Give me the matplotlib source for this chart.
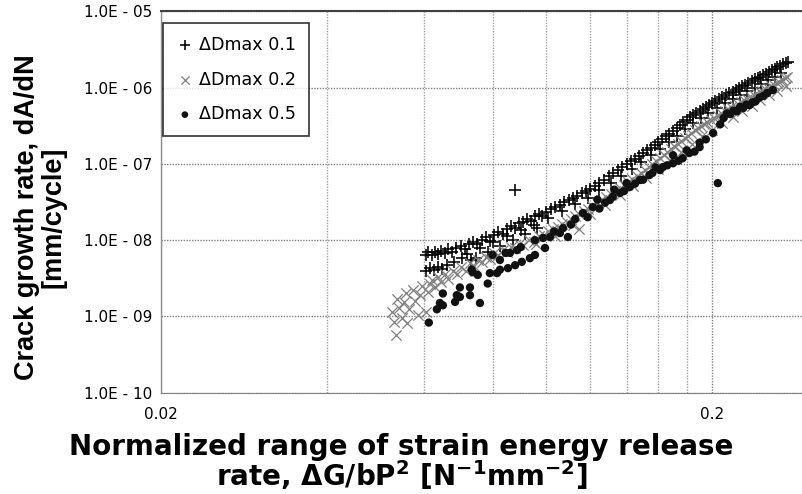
import matplotlib
matplotlib.use("Agg")
import matplotlib.pyplot as plt
from matplotlib.ticker import FixedLocator, NullFormatter

plt.rcParams['font.family'] = ['DejaVu Sans']
plt.rcParams['mathtext.fontset'] = 'custom'
plt.rcParams['mathtext.rm'] = 'DejaVu Sans:bold'
plt.rcParams['mathtext.it'] = 'DejaVu Sans:bold'
plt.rcParams['mathtext.bf'] = 'DejaVu Sans:bold'

# dDmax 0.1 (+)
plus_x = [0.0605, 0.0612, 0.0620, 0.0628, 0.0636, 0.0645, 0.0655, 0.0665, 0.0675, 0.0688,
          0.0605, 0.0615, 0.0626, 0.0637, 0.0648, 0.0662, 0.0680, 0.0705, 0.0730,
          0.0700, 0.0712, 0.0725, 0.0738, 0.0750, 0.0765, 0.0778, 0.0790, 0.0805, 0.0820,
          0.0835, 0.0850, 0.0865, 0.0880, 0.0895, 0.0910, 0.0925, 0.0940, 0.0955, 0.0970,
          0.0985, 0.1000, 0.1020, 0.1040, 0.1060, 0.1080, 0.1100, 0.1120, 0.1140, 0.1160,
          0.1180, 0.1200, 0.1225, 0.1250, 0.1275, 0.1300, 0.1325, 0.1350, 0.1375, 0.1400,
          0.1425, 0.1450, 0.1475, 0.1500, 0.1525, 0.1550, 0.1575, 0.1600, 0.1625, 0.1650,
          0.1675, 0.1700, 0.1725, 0.1750, 0.1775, 0.1800, 0.1825, 0.1850, 0.1875, 0.1900,
          0.1925, 0.1950, 0.1975, 0.2000, 0.2030, 0.2060, 0.2090, 0.2120, 0.2150, 0.2180,
          0.2210, 0.2240, 0.2270, 0.2300, 0.2330, 0.2360, 0.2390, 0.2420, 0.2450, 0.2480,
          0.2510, 0.2540, 0.2570, 0.2600, 0.2630, 0.2660, 0.2690, 0.2720, 0.2750,
          0.0720, 0.0760, 0.0800, 0.0850, 0.0900, 0.0950, 0.1010, 0.1070, 0.1130, 0.1190,
          0.1250, 0.1310, 0.1370, 0.1430, 0.1490, 0.1550, 0.1610, 0.1670, 0.1730, 0.1790,
          0.1850, 0.1910, 0.1970, 0.2040, 0.2110, 0.2180, 0.2250, 0.2320, 0.2390, 0.2460,
          0.2530, 0.2600, 0.2670,
          0.0745, 0.0785, 0.0825, 0.0870, 0.0915, 0.0965,
          0.0880]
plus_y = [6.3e-9, 6.9e-9, 6.4e-9, 7.1e-9, 6.6e-9, 7.3e-9, 6.7e-9, 7.6e-9, 7.0e-9, 7.9e-9,
          4.0e-9, 4.3e-9, 4.1e-9, 4.4e-9, 4.2e-9, 4.7e-9, 5.2e-9, 5.8e-9, 5.5e-9,
          8.3e-9, 7.6e-9, 8.9e-9, 9.6e-9, 8.8e-9, 1.02e-8, 1.1e-8, 9.9e-9, 1.18e-8, 1.27e-8,
          1.2e-8, 1.4e-8, 1.52e-8, 1.45e-8, 1.66e-8, 1.75e-8, 1.9e-8, 1.8e-8, 2.05e-8, 2.2e-8,
          2.1e-8, 2.35e-8, 2.55e-8, 2.7e-8, 2.9e-8, 3.15e-8, 3.35e-8, 3.6e-8, 3.85e-8, 4.1e-8,
          4.4e-8, 4.7e-8, 5.2e-8, 5.7e-8, 6.2e-8, 6.9e-8, 7.6e-8, 8.3e-8, 9.1e-8, 1.0e-7,
          1.08e-7, 1.17e-7, 1.27e-7, 1.38e-7, 1.5e-7, 1.63e-7, 1.78e-7, 1.95e-7, 2.12e-7, 2.3e-7,
          2.5e-7, 2.7e-7, 2.95e-7, 3.2e-7, 3.5e-7, 3.8e-7, 4.1e-7, 4.4e-7, 4.7e-7, 5.0e-7,
          5.3e-7, 5.6e-7, 5.95e-7, 6.3e-7, 6.7e-7, 7.1e-7, 7.5e-7, 7.95e-7, 8.4e-7, 8.9e-7,
          9.4e-7, 9.9e-7, 1.05e-6, 1.1e-6, 1.16e-6, 1.22e-6, 1.28e-6, 1.34e-6, 1.4e-6, 1.46e-6,
          1.53e-6, 1.6e-6, 1.68e-6, 1.76e-6, 1.85e-6, 1.94e-6, 2.03e-6, 2.1e-6, 2.15e-6,
          6.5e-9, 7.8e-9, 9.5e-9, 1.15e-8, 1.35e-8, 1.6e-8, 1.95e-8, 2.4e-8, 3.0e-8, 3.6e-8,
          4.5e-8, 5.6e-8, 7.0e-8, 8.7e-8, 1.05e-7, 1.3e-7, 1.58e-7, 1.95e-7, 2.35e-7, 2.85e-7,
          3.45e-7, 4.0e-7, 4.6e-7, 5.4e-7, 6.2e-7, 7.1e-7, 8.0e-7, 9.0e-7, 1.0e-6, 1.12e-6,
          1.25e-6, 1.4e-6, 1.55e-6,
          5.9e-9, 7.0e-9, 8.4e-9, 1.0e-8, 1.2e-8, 1.45e-8,
          4.5e-8]

# dDmax 0.2 (x)
cross_x = [0.0525, 0.0530, 0.0535, 0.0536, 0.0542, 0.0548, 0.0553, 0.0558, 0.0560, 0.0565,
           0.0573, 0.0578, 0.0585, 0.0590, 0.0597, 0.0606, 0.0610, 0.0617, 0.0622, 0.0630,
           0.0638, 0.0646, 0.0655, 0.0665, 0.0678, 0.0690, 0.0702, 0.0715, 0.0727, 0.0740,
           0.0752, 0.0765, 0.0778, 0.0790, 0.0805, 0.0820, 0.0835, 0.0850, 0.0865, 0.0880,
           0.0895, 0.0910, 0.0930, 0.0950, 0.0970, 0.0990, 0.1010, 0.1030, 0.1050, 0.1070,
           0.1090, 0.1110, 0.1130, 0.1150, 0.1150, 0.1170, 0.1190, 0.1210, 0.1235, 0.1260,
           0.1285, 0.1310, 0.1335, 0.1360, 0.1385, 0.1410, 0.1435, 0.1460, 0.1485, 0.1510,
           0.1535, 0.1560, 0.1585, 0.1610, 0.1635, 0.1660, 0.1685, 0.1710, 0.1735, 0.1760,
           0.1785, 0.1810, 0.1835, 0.1860, 0.1885, 0.1910, 0.1935, 0.1960, 0.1990, 0.2020,
           0.2050, 0.2080, 0.2110, 0.2140, 0.2170, 0.2200, 0.2230, 0.2260, 0.2290, 0.2320,
           0.2350, 0.2380, 0.2410, 0.2440, 0.2470, 0.2500, 0.2530, 0.2560, 0.2590, 0.2620,
           0.2650, 0.2680, 0.2710, 0.2740,
           0.0960, 0.1040, 0.1120, 0.1200, 0.1280, 0.1360, 0.1440, 0.1520, 0.1600, 0.1680,
           0.1760, 0.1840, 0.1920, 0.2000, 0.2090, 0.2180, 0.2270, 0.2360, 0.2450, 0.2540,
           0.2630, 0.2720]
cross_y = [1.15e-9, 8.5e-10, 5.7e-10, 1.7e-9, 1.3e-9, 9.5e-10, 1.55e-9, 2.0e-9, 8.2e-10, 1.25e-9,
           2.2e-9, 1.6e-9, 1.05e-9, 1.9e-9, 2.5e-9, 1.15e-9, 2.1e-9, 2.7e-9, 3.0e-9, 2.4e-9,
           3.3e-9, 2.8e-9, 3.6e-9, 3.1e-9, 4.0e-9, 3.6e-9, 4.4e-9, 4.0e-9, 5.0e-9, 4.6e-9,
           5.5e-9, 5.1e-9, 6.1e-9, 5.7e-9, 6.7e-9, 6.3e-9, 7.4e-9, 7.0e-9, 8.2e-9, 7.8e-9,
           9.0e-9, 8.6e-9, 1.0e-8, 9.6e-9, 1.12e-8, 1.18e-8, 1.3e-8, 1.4e-8, 1.5e-8, 1.62e-8,
           1.75e-8, 1.9e-8, 2.05e-8, 2.2e-8, 1.4e-8, 2.4e-8, 2.6e-8, 2.8e-8, 3.05e-8, 3.35e-8,
           3.65e-8, 4.0e-8, 4.4e-8, 4.8e-8, 5.3e-8, 5.8e-8, 6.4e-8, 7.0e-8, 7.7e-8, 8.4e-8,
           9.2e-8, 1.0e-7, 1.1e-7, 1.2e-7, 1.31e-7, 1.43e-7, 1.56e-7, 1.7e-7, 1.85e-7, 2.0e-7,
           2.17e-7, 2.35e-7, 2.55e-7, 2.75e-7, 2.95e-7, 3.15e-7, 3.35e-7, 3.55e-7, 3.8e-7, 4.05e-7,
           4.3e-7, 4.6e-7, 4.9e-7, 5.2e-7, 5.5e-7, 5.8e-7, 6.1e-7, 6.45e-7, 6.8e-7, 7.15e-7,
           7.5e-7, 7.9e-7, 8.3e-7, 8.7e-7, 9.1e-7, 9.5e-7, 1.0e-6, 1.05e-6, 1.1e-6, 1.15e-6,
           1.2e-6, 1.26e-6, 1.32e-6, 1.38e-6,
           8.8e-9, 1.15e-8, 1.6e-8, 2.2e-8, 2.9e-8, 3.9e-8, 5.1e-8, 6.6e-8, 8.6e-8, 1.12e-7,
           1.45e-7, 1.85e-7, 2.3e-7, 2.8e-7, 3.4e-7, 4.1e-7, 4.9e-7, 5.8e-7, 6.8e-7, 7.9e-7,
           9.1e-7, 1.04e-6]

# dDmax 0.5 (filled circles)
dot_x = [0.0613, 0.0634, 0.0642, 0.0650, 0.0650, 0.0684, 0.0689, 0.0698, 0.0698, 0.0728,
         0.0728, 0.0759, 0.0752, 0.0784, 0.0815, 0.0853, 0.0879, 0.0737, 0.0791, 0.0825,
         0.0860, 0.0886, 0.0733, 0.0904, 0.0935, 0.0996, 0.0800, 0.0845, 0.0900, 0.0955,
         0.0988, 0.1017, 0.1074, 0.1096, 0.1060, 0.0825, 0.0955,
         0.1035, 0.1110, 0.1130, 0.1167, 0.1190, 0.1216, 0.1250, 0.1280, 0.1306, 0.1322,
         0.1362, 0.1385, 0.1420, 0.1450, 0.1480, 0.1500, 0.1540, 0.1560, 0.1610, 0.1630,
         0.1700, 0.1770, 0.1820, 0.1900, 0.1950, 0.2010, 0.2050,
         0.1700, 0.1800, 0.1900, 0.2070, 0.2130, 0.2190, 0.2250, 0.2310, 0.2370, 0.2440,
         0.2520, 0.2580, 0.1240, 0.1330, 0.1400, 0.1580,
         0.1660, 0.1740, 0.1860, 0.2100, 0.2160, 0.2220, 0.2280, 0.2340, 0.2400, 0.2480]
dot_y = [8.3e-10, 1.24e-9, 1.5e-9, 2.0e-9, 1.4e-9, 1.55e-9, 1.9e-9, 1.8e-9, 2.4e-9, 1.9e-9,
         2.4e-9, 1.5e-9, 3.5e-9, 2.7e-9, 3.7e-9, 4.3e-9, 4.7e-9, 3.8e-9, 3.7e-9, 5.5e-9,
         6.8e-9, 7.4e-9, 4.1e-9, 5.2e-9, 5.8e-9, 7.9e-9, 6.4e-9, 6.8e-9, 8.1e-9, 1.0e-8,
         1.07e-8, 1.1e-8, 1.44e-8, 1.1e-8, 1.24e-8, 4.1e-9, 6.4e-9,
         1.3e-8, 1.6e-8, 1.9e-8, 2.27e-8, 2.0e-8, 2.72e-8, 2.6e-8, 3.1e-8, 3.36e-8, 3.7e-8,
         4.15e-8, 4.4e-8, 4.98e-8, 5.5e-8, 6.15e-8, 6.2e-8, 7.13e-8, 7.6e-8, 8.3e-8, 9.1e-8,
         1.02e-7, 1.19e-7, 1.39e-7, 1.66e-7, 2.1e-7, 2.54e-7, 5.6e-8,
         1.3e-7, 1.51e-7, 1.9e-7, 3.3e-7, 4.6e-7, 5.0e-7, 5.6e-7, 6.0e-7, 6.4e-7, 7.4e-7,
         8.5e-7, 9.3e-7, 3.4e-8, 4.6e-8, 5.6e-8, 9.0e-8,
         9.6e-8, 1.1e-7, 1.45e-7, 4.0e-7, 4.5e-7, 4.9e-7, 5.4e-7, 5.9e-7, 6.6e-7, 7.8e-7]

labels = ["ΔDmax 0.1", "ΔDmax 0.2", "ΔDmax 0.5"]

fig = plt.figure(figsize=(8.03, 4.94), dpi=100)
ax = fig.add_axes([0.2001, 0.2051, 0.7999, 0.7718])

ax.scatter(plus_x, plus_y, marker='+', s=80, c='black', linewidths=1.15, label=labels[0], zorder=3)
ax.scatter(cross_x, cross_y, marker='x', s=55, c='#7f7f7f', linewidths=0.9, label=labels[1], zorder=3)
ax.scatter(dot_x, dot_y, marker='o', s=36, c='#111111', edgecolors='none', label=labels[2], zorder=4)

ax.set_xscale('log')
ax.set_yscale('log')
ax.set_xlim(0.02, 0.2926)
ax.set_ylim(1e-10, 1e-5)

ax.set_xticks([0.02, 0.2])
ax.set_xticklabels(['0.02', '0.2'])
ax.xaxis.set_minor_locator(FixedLocator([0.04, 0.06, 0.08, 0.10, 0.12, 0.14, 0.16, 0.18]))
ax.xaxis.set_minor_formatter(NullFormatter())
yt = [1e-10, 1e-9, 1e-8, 1e-7, 1e-6, 1e-5]
ax.set_yticks(yt)
ax.set_yticklabels(['1.0E - %02d' % k for k in [10, 9, 8, 7, 6, 5]])
ax.yaxis.set_minor_locator(FixedLocator([]))

ax.tick_params(axis='both', which='both', length=0, labelsize=11, colors='black')
ax.tick_params(axis='x', pad=10)
ax.tick_params(axis='y', pad=6)

ax.grid(True, which='major', axis='both', color='#808080', linestyle=(0, (1, 1)), linewidth=1.0)
ax.grid(True, which='minor', axis='x', color='#a0a0a0', linestyle=(0, (1, 1)), linewidth=1.0)
ax.set_axisbelow(True)

ax.spines['right'].set_visible(False)
ax.spines['top'].set_color('#404040')
ax.spines['top'].set_linewidth(1.5)
ax.spines['left'].set_color('#909090')
ax.spines['left'].set_linewidth(1.0)
ax.spines['bottom'].set_color('#808080')
ax.spines['bottom'].set_linestyle((0, (1, 1)))

leg = ax.legend(loc='upper left', bbox_to_anchor=(0.0036, 0.970), borderaxespad=0,
                fontsize=12.6, frameon=True, fancybox=False, edgecolor='black',
                handlelength=1.0, handletextpad=0.3, labelspacing=0.95,
                borderpad=0.75, markerscale=0.8)
leg.get_frame().set_linewidth(1.2)

fig.text(0.5, 39 / 494, "Normalized range of strain energy release",
         ha='center', va='baseline', fontsize=20, fontweight='bold')
fig.text(0.5, 8 / 494, "rate, ΔG/bP$^{2}$ [N$^{-1}$mm$^{-2}$]",
         ha='center', va='baseline', fontsize=20, fontweight='bold')
fig.text(0.05, 0.56, "Crack growth rate, dA/dN\n[mm/cycle]", rotation=90,
         ha='center', va='center', fontsize=19.5, fontweight='bold', linespacing=1.0,
         multialignment='center', family=['Liberation Sans', 'DejaVu Sans'])

fig.savefig('out.png', dpi=100)
